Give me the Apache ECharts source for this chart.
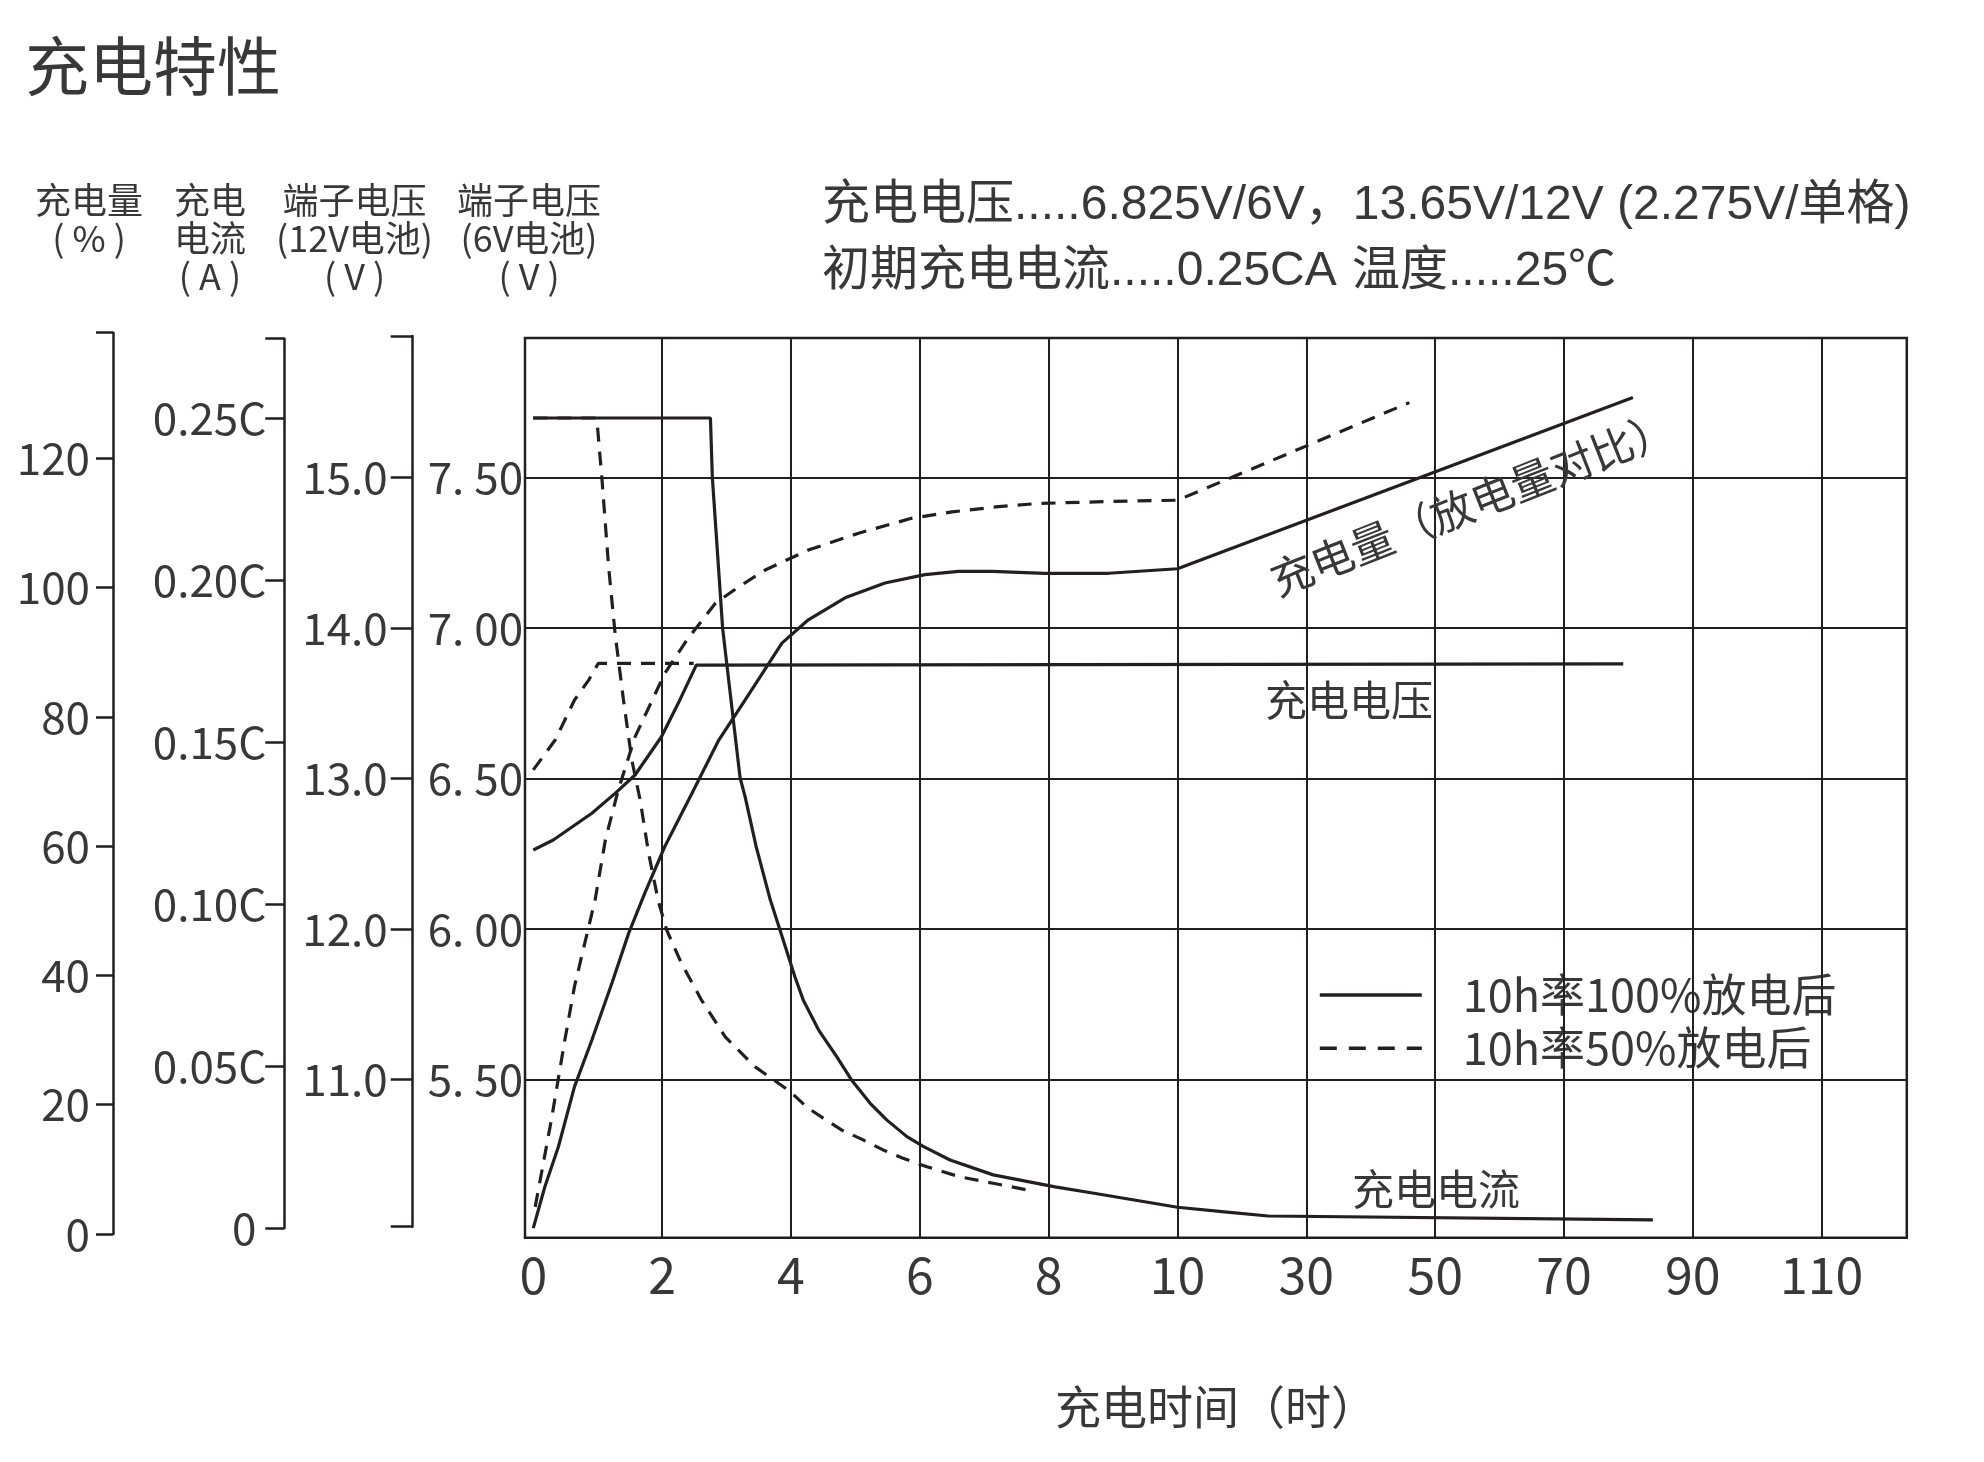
<!DOCTYPE html>
<html><head><meta charset="utf-8">
<script src="https://cdn.jsdelivr.net/npm/echarts@6/dist/echarts.min.js"></script>
<style>html,body{margin:0;padding:0;background:#fff}#c{width:1984px;height:1462px}</style>
</head><body><div id="c"></div>
<script>
// ---------------- data ----------------
const xTickHours   = [0, 2, 4, 6, 8, 10, 30, 50, 70, 90, 110];
const pctTicks     = [0, 20, 40, 60, 80, 100, 120];
const currentTicks = [0, 0.05, 0.10, 0.15, 0.20, 0.25];
const volt6Ticks   = [5.5, 6.0, 6.5, 7.0, 7.5];

const NAME_FULL = '10h率100%放电后';
const NAME_HALF = '10h率50%放电后';

// charging current (C) after 100% discharge
const curFullT = [0, 2.75, 2.78, 2.94, 3.21, 3.29, 3.46, 3.68, 3.83, 4.06, 4.19, 4.43, 4.71, 4.94, 5.23, 5.49, 5.80, 6.06, 6.47, 7.14, 8.10, 8.68, 10, 17.3, 24.1, 83.8];
const curFullV = [0.25, 0.25, 0.2316, 0.185, 0.139, 0.133, 0.1177, 0.1012, 0.092, 0.0776, 0.0704, 0.0611, 0.0529, 0.0457, 0.0385, 0.0333, 0.0282, 0.0251, 0.0210, 0.0164, 0.0127, 0.0108, 0.0064, 0.0050, 0.0037, 0.0025];
// charging current (C) after 50% discharge
const curHalfT = [0, 0.96, 0.99, 1.07, 1.17, 1.27, 1.40, 1.53, 1.66, 1.79, 1.94, 2.07, 2.30, 2.61, 2.98, 3.44, 3.99, 4.24, 4.50, 4.79, 5.12, 5.43, 5.74, 6.11, 6.62, 7.14, 7.68];
const curHalfV = [0.25, 0.25, 0.2489, 0.2302, 0.204, 0.1835, 0.163, 0.1444, 0.132, 0.1157, 0.101, 0.092, 0.0817, 0.0704, 0.059, 0.0498, 0.0421, 0.0374, 0.0339, 0.0302, 0.0272, 0.0241, 0.0215, 0.0189, 0.0158, 0.0138, 0.0117];
// terminal voltage (6V battery, V)
const voltFullT = [0, 0.31, 0.91, 1.27, 1.58, 1.99, 2.25, 2.53, 79.2];
const voltFullV = [6.263, 6.296, 6.385, 6.451, 6.512, 6.639, 6.75, 6.877, 6.881];
const voltHalfT = [0, 0.34, 0.64, 0.86, 1.01, 2.49];
const voltHalfV = [6.529, 6.628, 6.761, 6.827, 6.883, 6.883];
// charged amount (% of discharged amount)
const chgFullT = [0, 0.18, 0.39, 0.64, 0.91, 1.22, 1.48, 1.73, 2.04, 2.46, 2.88, 3.29, 3.86, 4.27, 4.84, 5.46, 6.08, 6.60, 7.12, 7.94, 8.93, 10, 80.7];
const chgFullV = [0.9, 7.3, 13.5, 22.8, 30.0, 38.8, 46.5, 52.7, 59.9, 68.1, 76.4, 82.6, 91.4, 95.0, 98.4, 100.7, 102.0, 102.5, 102.5, 102.2, 102.2, 102.9, 129.4];
const chgHalfT = [0.03, 0.28, 0.49, 0.64, 0.80, 0.96, 1.12, 1.32, 1.58, 2.04, 2.40, 2.83, 3.19, 3.60, 4.27, 5.05, 5.87, 6.50, 7.22, 7.84, 8.93, 10, 46.0];
const chgHalfV = [4.2, 17.6, 30.0, 38.3, 45.0, 51.7, 61.0, 68.7, 76.9, 86.7, 92.1, 97.6, 100.1, 102.7, 105.8, 108.4, 110.7, 111.7, 112.5, 113.0, 113.3, 113.5, 128.6];

// ---------------- layout & style ----------------
const FONT = '"Noto Sans CJK SC", "Noto Sans", sans-serif';
const LAT  = '"Liberation Sans", "Noto Sans CJK SC", sans-serif';
const INK = '#231f20';
const TXT = '#383838';
const DASH = [14, 10];

function mk(v0, p0, v1, p1) { const k = (p1 - p0) / (v1 - v0); return p => v0 + (p - p0) / k; }
const pctAt  = mk(0, 1234, 120, 458.2);
const curAt  = mk(0, 1228, 0.25, 418);
const voltAt = mk(5.5, 1079.7, 7.5, 477.5);

const PLOT = { left: 525, top: 338, right: 1906.8, bottom: 1237.7 };
const X0 = 533.27, X_UNIT = 128.84;          // pixel of time 0, pixels per grid cell
const xMin = (PLOT.left - X0) / X_UNIT;
const xMax = (PLOT.right - X0) / X_UNIT;

// piecewise time scale: 2 h per cell up to 10 h, 20 h per cell afterwards
const toU = t => t <= 10 ? t / 2 : 5 + (t - 10) / 20;
const uToHours = u => u <= 5 ? u * 2 : 10 + (u - 5) * 20;
const pair = (T, V) => T.map((t, i) => [toU(t), V[i]]);

const gridLineStyle = { color: INK, width: 2, type: 'solid' };

function series(name, yIdx, T, V, dashed, extra) {
  return Object.assign({
    type: 'line', name, xAxisIndex: 0, yAxisIndex: yIdx, data: pair(T, V),
    symbol: 'none', silent: true, z: 5,
    lineStyle: { color: INK, width: 3.2, type: dashed ? DASH : 'solid' },
    itemStyle: { color: INK }
  }, extra || {});
}
function gridMarks(list) {
  return { silent: true, symbol: ['none', 'none'], label: { show: false }, animation: false,
    lineStyle: gridLineStyle, emphasis: { disabled: true }, data: list };
}

const visAxisBase = {
  type: 'value', position: 'left',
  axisLine: { show: true, lineStyle: { color: INK, width: 2.5 } },
  splitLine: { show: false },
};
const lblStyle = { fontSize: 44, fontFamily: FONT, color: TXT };

const pctMax = pctAt(332.7);
const curMax = curAt(338.7);
const vMin = voltAt(1226.7), vMax = voltAt(336);

function txt(text, x, y, size, o) {
  o = o || {};
  return { type: 'text', x, y, rotation: o.rot || 0, silent: true, z: 10,
    style: { text, x: 0, y: 0, fontSize: size, fontFamily: o.font || FONT, fill: TXT,
      align: o.align || 'center', verticalAlign: 'middle' } };
}

const option = {
  backgroundColor: '#ffffff',
  animation: false,
  grid: [
    { left: PLOT.left, top: PLOT.top, width: PLOT.right - PLOT.left, height: PLOT.bottom - PLOT.top,
      show: true, borderColor: INK, borderWidth: 2.5, backgroundColor: 'transparent', outerBoundsMode: 'none' },
    { left: 113, top: 332.7, width: 1, height: 1234 - 332.7, outerBoundsMode: 'none' },
    { left: 284.3, top: 338.7, width: 1, height: 1228 - 338.7, outerBoundsMode: 'none' },
    { left: 412.7, top: 336, width: 1, height: 1226.7 - 336, outerBoundsMode: 'none' }
  ],
  xAxis: [
    { gridIndex: 0, type: 'value', min: xMin, max: xMax,
      axisLine: { show: false }, axisTick: { show: false }, splitLine: { show: false },
      axisLabel: { margin: 12, fontSize: 50, fontFamily: FONT, color: TXT,
        customValues: xTickHours.map(toU),
        formatter: v => String(Math.round(uToHours(v))) },
      name: '充电时间（时）', nameLocation: 'middle', nameGap: 146,
      nameTextStyle: { fontSize: 46, fontFamily: FONT, color: TXT } },
    { gridIndex: 1, type: 'value', min: 0, max: 1, show: false },
    { gridIndex: 2, type: 'value', min: 0, max: 1, show: false },
    { gridIndex: 3, type: 'value', min: 0, max: 1, show: false }
  ],
  yAxis: [
    { gridIndex: 0, type: 'value', show: false, min: voltAt(PLOT.bottom), max: voltAt(PLOT.top), splitLine: { show: false } },
    { gridIndex: 0, type: 'value', show: false, min: curAt(PLOT.bottom), max: curAt(PLOT.top), splitLine: { show: false } },
    { gridIndex: 0, type: 'value', show: false, min: pctAt(PLOT.bottom), max: pctAt(PLOT.top), splitLine: { show: false } },
    Object.assign({}, visAxisBase, { gridIndex: 1, min: 0, max: pctMax,
      axisTick: { show: true, length: 17, lineStyle: { color: INK, width: 2.5 }, customValues: pctTicks.concat([pctMax]) },
      axisLabel: Object.assign({ margin: 23, customValues: pctTicks, formatter: v => String(Math.round(v)) }, lblStyle) }),
    Object.assign({}, visAxisBase, { gridIndex: 2, min: 0, max: curMax,
      axisTick: { show: true, length: 19, lineStyle: { color: INK, width: 2.5 }, customValues: currentTicks.concat([curMax]) },
      axisLabel: Object.assign({ margin: 18, customValues: currentTicks,
        formatter: v => v < 1e-9 ? '0 ' : v.toFixed(2) + 'C' }, lblStyle) }),
    Object.assign({}, visAxisBase, { gridIndex: 3, min: vMin, max: vMax,
      axisTick: { show: true, length: 22, lineStyle: { color: INK, width: 2.5 }, customValues: [vMin].concat(volt6Ticks, [vMax]) },
      axisLabel: Object.assign({ margin: 25, customValues: volt6Ticks, formatter: v => (2 * v).toFixed(1) }, lblStyle) }),
    { gridIndex: 3, type: 'value', position: 'left', min: vMin, max: vMax,
      axisLine: { show: false }, axisTick: { show: false }, splitLine: { show: false },
      axisLabel: Object.assign({ inside: true, margin: 15, customValues: volt6Ticks,
        formatter: v => v.toFixed(2).replace('.', '. ') }, lblStyle) }
  ],
  legend: {
    left: 1318, top: 972.5, orient: 'vertical', padding: 0,
    itemWidth: 102, itemHeight: 45, itemGap: 8.3, selectedMode: false,
    itemStyle: { opacity: 0 },
    lineStyle: { width: 3.6 },
    textStyle: { fontSize: 45, fontFamily: FONT, color: TXT, padding: [0, 0, 0, 36] },
    data: [
      { name: NAME_FULL, lineStyle: { width: 3.6, type: 'solid' } },
      { name: NAME_HALF, lineStyle: { width: 3.6, type: [17, 12] } }
    ]
  },
  series: [
    series(NAME_FULL, 0, voltFullT, voltFullV, false, {
      markLine: gridMarks(volt6Ticks.map(v => ({ yAxis: v })))
    }),
    series(NAME_HALF, 0, voltHalfT, voltHalfV, true),
    series(NAME_FULL, 1, curFullT, curFullV, false, {
      markLine: gridMarks(xTickHours.slice(1).map(h => ({ xAxis: toU(h) })))
    }),
    series(NAME_HALF, 1, curHalfT, curHalfV, true),
    series(NAME_FULL, 2, chgFullT, chgFullV, false),
    series(NAME_HALF, 2, chgHalfT, chgHalfV, true)
  ],
  graphic: [
    txt('充电特性', 25, 66, 64, { align: 'left' }),
    txt('充电量', 89, 200, 36), txt('( % )', 89, 238, 36),
    txt('充电', 210, 200, 36), txt('电流', 210, 238, 36), txt('( A )', 210, 276, 36),
    txt('端子电压', 354.5, 200, 36), txt('(12V电池)', 354.5, 238, 36), txt('( V )', 354.5, 276, 36),
    txt('端子电压', 529, 200, 36), txt('(6V电池)', 529, 238, 36), txt('( V )', 529, 276, 36),
    txt('充电电压.....6.825V/6V，13.65V/12V (2.275V/单格)', 822, 206, 48, { align: 'left', font: LAT }),
    txt('初期充电电流.....0.25CA', 822, 272, 48, { align: 'left', font: LAT }),
    txt('温度.....25℃', 1352, 272, 48, { align: 'left', font: LAT }),
    txt('充电量（放电量对比）', 1472, 503, 43, { rot: 21.5 * Math.PI / 180 }),
    txt('充电电压', 1349, 700, 42),
    txt('充电电流', 1436, 1189, 42)
  ]
};

const chart = echarts.init(document.getElementById('c'), null, { renderer: 'canvas' });
chart.setOption(option);
</script></body></html>
